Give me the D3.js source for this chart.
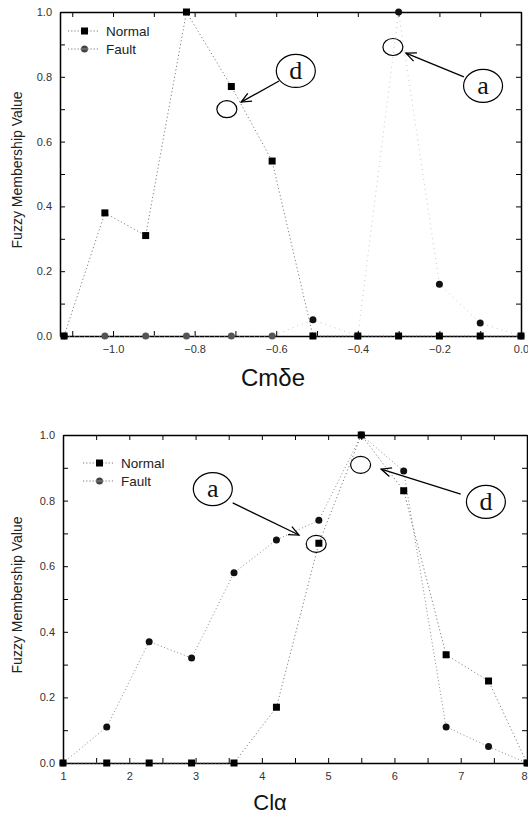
<!DOCTYPE html>
<html><head><meta charset="utf-8">
<script src="https://cdn.jsdelivr.net/npm/d3@7/dist/d3.min.js"></script>
<style>
body{margin:0;background:#fff;}
svg{display:block;}
text{font-family:"Liberation Sans",Arial,sans-serif;}
</style></head>
<body>
<svg id="c" width="528" height="816"></svg>
<script>
// ---- Data: top chart (Cmδe) ----
const topX      = [-1.12, -1.02, -0.92, -0.82, -0.71, -0.61, -0.51, -0.40, -0.30, -0.20, -0.10, 0.0];
const topNormal = [0, 0.38, 0.31, 1.0, 0.77, 0.54, 0, 0, 0, 0, 0, 0];
const topFault  = [0, 0, 0, 0, 0, 0, 0.05, 0, 1.0, 0.16, 0.04, 0];
const topXTicks = [-1.1,-1.0,-0.9,-0.8,-0.7,-0.6,-0.5,-0.4,-0.3,-0.2,-0.1,0.0];
const topXLabels = [-1.0,-0.8,-0.6,-0.4,-0.2,0.0];

// ---- Data: bottom chart (Clα) ----
const botX      = [1.0, 1.66, 2.30, 2.94, 3.58, 4.22, 4.86, 5.50, 6.14, 6.78, 7.42, 8.0];
const botNormal = [0, 0, 0, 0, 0, 0.17, 0.67, 1.0, 0.83, 0.33, 0.25, 0];
const botFault  = [0, 0.11, 0.37, 0.32, 0.58, 0.68, 0.74, 1.0, 0.89, 0.11, 0.05, 0];
const botXTicks = [1,1.5,2,2.5,3,3.5,4,4.5,5,5.5,6,6.5,7,7.5,8];
const botXLabels = [1,2,3,4,5,6,7,8];

const yTicks  = [0,0.1,0.2,0.3,0.4,0.5,0.6,0.7,0.8,0.9,1.0];
const yLabels = [0,0.2,0.4,0.6,0.8,1.0];

const seriesNames = ["Normal","Fault"];
const yTitle = "Fuzzy Membership Value";

// annotations in data units
const topAnn = {
  small: [[-0.721,0.70],[-0.314,0.892]],
  labels: [{t:"d",x:-0.552,y:0.818},{t:"a",x:-0.093,y:0.772}],
  arrows: [[[-0.593,0.787],[-0.686,0.722]],[[-0.14,0.80],[-0.282,0.873]]]
};
const botAnn = {
  small: [[4.82,0.668],[5.49,0.909]],
  labels: [{t:"a",x:3.26,y:0.835},{t:"d",x:7.38,y:0.796}],
  arrows: [[[3.56,0.793],[4.56,0.695]],[[7.0,0.82],[5.80,0.896]]]
};

const svg = d3.select("#c");
const W = 528;

function near(a,b){return Math.abs(a-b)<1e-6;}

function panel(cfg){
  const g = svg.append("g");
  const x = d3.scaleLinear().domain(cfg.xDomain).range([cfg.left,cfg.right]);
  const y = d3.scaleLinear().domain([0,1]).range([cfg.bottom,cfg.top]);

  const fmtX = d => cfg.xLabels.some(v=>near(v,d)) ? cfg.xFmt(d) : "";
  const fmtY = d => yLabels.some(v=>near(v,d)) ? d3.format(".1f")(d) : "";

  const ax = [
    g.append("g").attr("transform",`translate(0,${cfg.bottom})`)
      .call(d3.axisBottom(x).tickValues(cfg.xTicks).tickFormat(fmtX).tickSizeInner(-5).tickSizeOuter(0).tickPadding(9)),
    g.append("g").attr("transform",`translate(0,${cfg.top})`)
      .call(d3.axisTop(x).tickValues(cfg.xTicks).tickFormat("").tickSizeInner(-5).tickSizeOuter(0)),
    g.append("g").attr("transform",`translate(${cfg.left},0)`)
      .call(d3.axisLeft(y).tickValues(yTicks).tickFormat(fmtY).tickSizeInner(-5).tickSizeOuter(0).tickPadding(8)),
    g.append("g").attr("transform",`translate(${cfg.right},0)`)
      .call(d3.axisRight(y).tickValues(yTicks).tickFormat("").tickSizeInner(-5).tickSizeOuter(0))
  ];
  ax.forEach(a=>{
    a.select(".domain").attr("stroke","#000").attr("stroke-width",1.5);
    a.selectAll(".tick line").attr("stroke","#000").attr("stroke-width",1);
    a.selectAll(".tick text").attr("fill","#333").style("font-size","11px");
  });
  // keep the right-most x label inside the page
  ax[0].selectAll(".tick text").each(function(d){
    const px = x(d);
    if (px + 6 > W) d3.select(this).attr("text-anchor","end").attr("x", W - 1 - px);
  });

  const line = d3.line().x(d=>x(d[0])).y(d=>y(d[1]));
  const nData = cfg.xs.map((v,i)=>[v,cfg.normal[i]]);
  const fData = cfg.xs.map((v,i)=>[v,cfg.fault[i]]);

  g.append("path").datum(fData).attr("d",line).attr("fill","none")
    .attr("stroke",cfg.faultColor).attr("stroke-width",1).attr("stroke-dasharray",cfg.faultDash);
  g.append("path").datum(nData).attr("d",line).attr("fill","none")
    .attr("stroke","#808080").attr("stroke-width",1).attr("stroke-dasharray","1.2,2.5");

  g.selectAll(".fpt").data(fData).enter().append("circle")
    .attr("cx",d=>x(d[0])).attr("cy",d=>y(d[1])).attr("r",3.5)
    .attr("fill",d=>d[1]>0?"#111":"#555");
  g.selectAll(".npt").data(nData).enter().append("rect")
    .attr("x",d=>x(d[0])-3.5).attr("y",d=>y(d[1])-3.5).attr("width",7).attr("height",7)
    .attr("fill","#000");

  // legend
  const lg = g.append("g");
  seriesNames.forEach((name,i)=>{
    const ly = cfg.legY + i*18;
    lg.append("line").attr("x1",cfg.legX).attr("x2",cfg.legX+32).attr("y1",ly).attr("y2",ly)
      .attr("stroke","#777").attr("stroke-dasharray","1.2,2");
    if(i===0) lg.append("rect").attr("x",cfg.legX+13).attr("y",ly-3.5).attr("width",7).attr("height",7).attr("fill","#000");
    else { lg.append("circle").attr("cx",cfg.legX+16.5).attr("cy",ly).attr("r",3.5).attr("fill","#444");
           lg.append("line").attr("x1",cfg.legX+12).attr("x2",cfg.legX+21).attr("y1",ly).attr("y2",ly).attr("stroke","#999").attr("stroke-width",0.8); }
    lg.append("text").attr("x",cfg.legX+38).attr("y",ly+4.5).text(name)
      .style("font-size","13.5px").attr("fill","#222");
  });

  // titles
  g.append("text").attr("x",cfg.xTitleX).attr("y",cfg.xTitleY).attr("text-anchor","middle")
    .style("font-size",cfg.xTitleSize+"px").attr("fill","#111").text(cfg.xTitle);
  g.append("text").attr("transform",`translate(22,${(cfg.top+cfg.bottom)/2-4}) rotate(-90)`)
    .attr("text-anchor","middle").style("font-size","14px").attr("fill","#222").text(yTitle);

  // annotations
  const A = cfg.ann;
  A.small.forEach(p=>{
    g.append("ellipse").attr("cx",x(p[0])).attr("cy",y(p[1])).attr("rx",10).attr("ry",8.5)
      .attr("fill","none").attr("stroke","#000").attr("stroke-width",1.2);
  });
  A.labels.forEach(l=>{
    g.append("ellipse").attr("cx",x(l.x)).attr("cy",y(l.y)).attr("rx",19.5).attr("ry",16.5)
      .attr("fill","none").attr("stroke","#000").attr("stroke-width",1.2);
    g.append("text").attr("x",x(l.x)).attr("y",y(l.y)+8).attr("text-anchor","middle")
      .style("font-family","'Liberation Serif','DejaVu Serif',serif").style("font-size","26px")
      .attr("fill","#111").text(l.t);
  });
  A.arrows.forEach(a=>{
    const x1=x(a[0][0]),y1=y(a[0][1]),x2=x(a[1][0]),y2=y(a[1][1]);
    g.append("line").attr("x1",x1).attr("y1",y1).attr("x2",x2).attr("y2",y2)
      .attr("stroke","#000").attr("stroke-width",1.3);
    const ang=Math.atan2(y2-y1,x2-x1), L=11, w=0.42;
    const p = `M${x2-L*Math.cos(ang-w)},${y2-L*Math.sin(ang-w)}L${x2},${y2}L${x2-L*Math.cos(ang+w)},${y2-L*Math.sin(ang+w)}`;
    g.append("path").attr("d",p).attr("fill","none").attr("stroke","#000").attr("stroke-width",1.3);
  });
}

panel({xDomain:[-1.13,0.0], left:60, right:521, top:12, bottom:336,
  xTicks:topXTicks, xLabels:topXLabels, xFmt:d3.format(".1f"),
  xs:topX, normal:topNormal, fault:topFault, faultColor:"#c8c8c8", faultDash:"1,4",
  legX:68, legY:31, xTitle:"Cmδe", xTitleX:273, xTitleY:386, xTitleSize:24, ann:topAnn});

panel({xDomain:[1,8], left:63, right:527, top:435, bottom:763,
  xTicks:botXTicks, xLabels:botXLabels, xFmt:d3.format("d"),
  xs:botX, normal:botNormal, fault:botFault, faultColor:"#8a8a8a", faultDash:"1,2.5",
  legX:83, legY:463, xTitle:"Clα", xTitleX:270, xTitleY:810, xTitleSize:22, ann:botAnn});
</script>
</body></html>
